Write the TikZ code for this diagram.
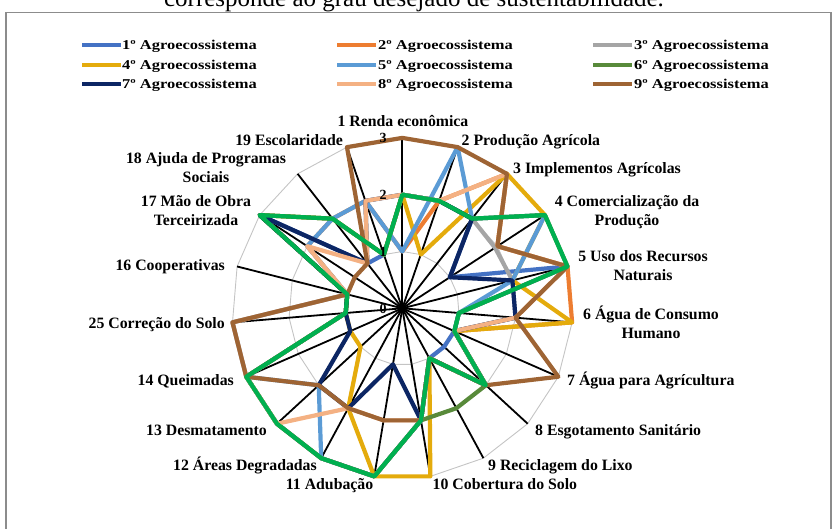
\documentclass[tikz,border=0pt]{standalone}
\usepackage{fontspec}
\setmainfont{Liberation Serif}
\definecolor{s1}{HTML}{4472C4}
\definecolor{s2}{HTML}{ED7D31}
\definecolor{s3}{HTML}{A5A5A5}
\definecolor{s4}{RGB}{228,171,12}
\definecolor{s5}{HTML}{5B9BD5}
\definecolor{s6}{RGB}{88,138,58}
\definecolor{s7}{RGB}{12,38,100}
\definecolor{s8}{HTML}{F4B183}
\definecolor{s9}{RGB}{158,100,52}
\definecolor{sg}{HTML}{00B050}
\definecolor{gridgray}{HTML}{C4C4C4}
\definecolor{framegray}{HTML}{8C8C8C}
\newcommand\radarserie[3]{%
  \draw[serie,#1] (-90:#2) \foreach \v [count=\k] in {#3} { -- ({\k*360/19-90}:\v) } -- cycle;}
\begin{document}
\begin{tikzpicture}[x=1pt,y=-1pt,
  serie/.style={line width=4.2pt,line join=round},
  spoke/.style={line width=1.8pt,black},
  gridline/.style={line width=0.9pt,gridgray},
  lab/.style={font=\bfseries\fontsize{15.8}{19}\selectfont,inner sep=0pt},
  tick/.style={font=\bfseries\fontsize{14}{16}\selectfont,inner sep=0pt,anchor=base},
  legline/.style={line width=4pt},
  legtext/.style={font=\bfseries\fontsize{13.5}{16}\selectfont,inner sep=0pt,anchor=base west}]
\useasboundingbox (0,0) rectangle (832,528);
% title (cut at top)
\node[font=\fontsize{25}{30}\selectfont,inner sep=0pt,anchor=base] (title) at (414,6) {corresponde ao grau desejado de sustentabilidade.};
% frame
\draw[framegray,line width=1.2pt] (6,540) -- (6,12.5) -- (831,12.5) -- (831,540);
% legend
\draw[legline,s1] (82,45) -- (121,45);
\node[legtext] (lg1) at (122,49.5) {\scalebox{1.22}[1]{1º Agroecossistema}};
\draw[legline,s2] (337,45) -- (376,45);
\node[legtext] (lg2) at (378,49.5) {\scalebox{1.22}[1]{2º Agroecossistema}};
\draw[legline,s3] (593,45) -- (632,45);
\node[legtext] (lg3) at (634,49.5) {\scalebox{1.22}[1]{3º Agroecossistema}};
\draw[legline,s4] (82,64.5) -- (121,64.5);
\node[legtext] (lg4) at (122,69) {\scalebox{1.22}[1]{4º Agroecossistema}};
\draw[legline,s5] (337,64.5) -- (376,64.5);
\node[legtext] (lg5) at (378,69) {\scalebox{1.22}[1]{5º Agroecossistema}};
\draw[legline,s6] (593,64.5) -- (632,64.5);
\node[legtext] (lg6) at (634,69) {\scalebox{1.22}[1]{6º Agroecossistema}};
\draw[legline,s7] (82,84) -- (121,84);
\node[legtext] (lg7) at (122,88.5) {\scalebox{1.22}[1]{7º Agroecossistema}};
\draw[legline,s8] (337,84) -- (376,84);
\node[legtext] (lg8) at (378,88.5) {\scalebox{1.22}[1]{8º Agroecossistema}};
\draw[legline,s9] (593,84) -- (632,84);
\node[legtext] (lg9) at (634,88.5) {\scalebox{1.22}[1]{9º Agroecossistema}};
% radar
\begin{scope}[shift={(402.3,308.3)}]
\begin{scope}[x=56.8pt,y=-56.8pt]
  \foreach \lv in {1,2,3}
    \draw[gridline] (-90:\lv) \foreach \k in {1,...,18} { -- ({\k*360/19-90}:\lv) } -- cycle;
  \foreach \k in {0,...,18}
    \draw[spoke] (0,0) -- ({\k*360/19-90}:3);
  \radarserie{s1}{2}{2,2,1,3,1,1,1,1,2,3,3,3,3,1,1,3,1,1}
  \radarserie{s2}{1}{2,3,2,3,3,1,2,1,2,3,3,3,3,1,1,2,2,2}
  \radarserie{s3}{2}{2,2,1.95,2,2,1,2,1,2,3,3,3,3,1,1,3,2,1}
  \radarserie{s4}{2}{1,3,3,2,3,1,2,1,3,3,2,1,1,1,1,3,2,1}
  \radarserie{s5}{1}{3,2,3,2,1,1,2,1,2,3,3,2,3,3,1,2,2,2}
  \radarserie{s6}{2}{2,2,3,3,1,1,2,2,2,3,3,3,3,1,1,3,2,1}
  \radarserie{s7}{2}{2,2,1,2,2,1,2,1,2,1,2,2,1,1,1,3,1,2}
  \radarserie{s8}{2}{2,3,2,3,2,1,2,1,2,2,2,3,3,3,1,2,1,2}
  \radarserie{s9}{3}{3,3,2,3,2,3,2,1,2,2,2,2,3,3,1,1,1,3}
  \radarserie{sg}{2}{2,2,3,3,1,1,2,1,2,3,3,3,3,1,1,3,2,1}
\end{scope}
\end{scope}
% tick labels
\node[tick] (t0) at (383,313.3) {0};
\node[tick] (t1) at (383,256.5) {1};
\node[tick] (t2) at (383,199.7) {2};
\node[tick] (t3) at (383,142.9) {3};
% category labels
\node[lab,anchor=base] (l1) at (403,126) {1 Renda econômica};
\node[lab,anchor=base west] (l2) at (461.5,145) {2 Produção Agrícola};
\node[lab,anchor=base west] (l3) at (513,173) {3 Implementos Agrícolas};
\node[lab,anchor=base] (l4) at (627,206.5) {\begin{tabular}[t]{@{}c@{}}4 Comercialização da\\Produção\end{tabular}};
\node[lab,anchor=base] (l5) at (643,261.5) {\begin{tabular}[t]{@{}c@{}}5 Uso dos Recursos\\Naturais\end{tabular}};
\node[lab,anchor=base] (l6) at (651,319) {\begin{tabular}[t]{@{}c@{}}6 Água de Consumo\\Humano\end{tabular}};
\node[lab,anchor=base west] (l7) at (567,385) {7 Água para Agrícultura};
\node[lab,anchor=base west] (l8) at (535,435) {8 Esgotamento Sanitário};
\node[lab,anchor=base west] (l9) at (488,470) {9 Reciclagem do Lixo};
\node[lab,anchor=base west] (l10) at (432.5,489.5) {10 Cobertura do Solo};
\node[lab,anchor=base east] (l11) at (373.5,489.5) {11 Adubação};
\node[lab,anchor=base east] (l12) at (317,470) {12 Áreas Degradadas};
\node[lab,anchor=base east] (l13) at (267,435) {13 Desmatamento};
\node[lab,anchor=base east] (l14) at (234,385) {14 Queimadas};
\node[lab,anchor=base east] (l15) at (225,328) {25 Correção do Solo};
\node[lab,anchor=base east] (l16) at (225,270) {16 Cooperativas};
\node[lab,anchor=base] (l17) at (196,206.5) {\begin{tabular}[t]{@{}c@{}}17 Mão de Obra\\Terceirizada\end{tabular}};
\node[lab,anchor=base] (l18) at (206,163) {\begin{tabular}[t]{@{}c@{}}18 Ajuda de Programas\\Sociais\end{tabular}};
\node[lab,anchor=base east] (l19) at (343,145) {19 Escolaridade};
\end{tikzpicture}
\end{document}
